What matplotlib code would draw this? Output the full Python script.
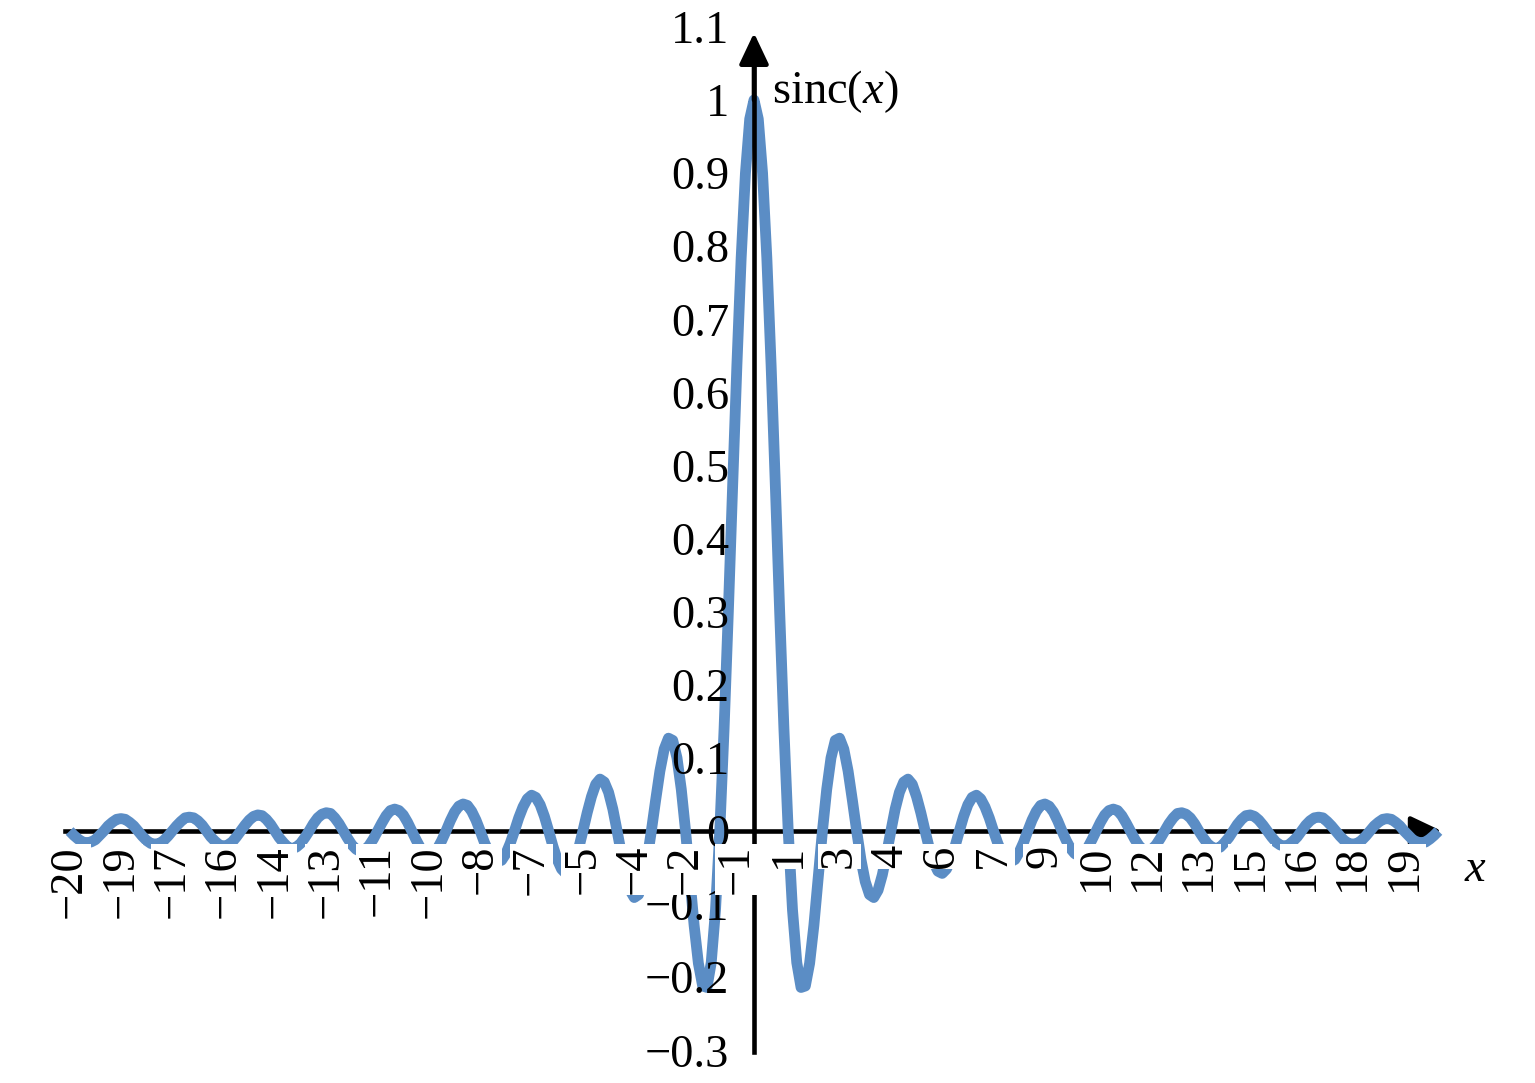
import matplotlib
matplotlib.use('Agg')
import matplotlib.pyplot as plt

plt.rcParams['font.family'] = ['Liberation Serif', 'DejaVu Serif']
plt.rcParams['mathtext.fontset'] = 'custom'
plt.rcParams['mathtext.rm'] = 'Liberation Serif'
plt.rcParams['mathtext.it'] = 'Liberation Serif:italic'

# sample points of the curve (one row per unit of x)
x_pts = [
    -20.0, -19.875, -19.75, -19.625, -19.5, -19.375, -19.25, -19.125,
    -19.0, -18.875, -18.75, -18.625, -18.5, -18.375, -18.25, -18.125,
    -18.0, -17.875, -17.75, -17.625, -17.5, -17.375, -17.25, -17.125,
    -17.0, -16.875, -16.75, -16.625, -16.5, -16.375, -16.25, -16.125,
    -16.0, -15.875, -15.75, -15.625, -15.5, -15.375, -15.25, -15.125,
    -15.0, -14.875, -14.75, -14.625, -14.5, -14.375, -14.25, -14.125,
    -14.0, -13.875, -13.75, -13.625, -13.5, -13.375, -13.25, -13.125,
    -13.0, -12.875, -12.75, -12.625, -12.5, -12.375, -12.25, -12.125,
    -12.0, -11.875, -11.75, -11.625, -11.5, -11.375, -11.25, -11.125,
    -11.0, -10.875, -10.75, -10.625, -10.5, -10.375, -10.25, -10.125,
    -10.0, -9.875, -9.75, -9.625, -9.5, -9.375, -9.25, -9.125,
    -9.0, -8.875, -8.75, -8.625, -8.5, -8.375, -8.25, -8.125,
    -8.0, -7.875, -7.75, -7.625, -7.5, -7.375, -7.25, -7.125,
    -7.0, -6.875, -6.75, -6.625, -6.5, -6.375, -6.25, -6.125,
    -6.0, -5.875, -5.75, -5.625, -5.5, -5.375, -5.25, -5.125,
    -5.0, -4.875, -4.75, -4.625, -4.5, -4.375, -4.25, -4.125,
    -4.0, -3.875, -3.75, -3.625, -3.5, -3.375, -3.25, -3.125,
    -3.0, -2.875, -2.75, -2.625, -2.5, -2.375, -2.25, -2.125,
    -2.0, -1.875, -1.75, -1.625, -1.5, -1.375, -1.25, -1.125,
    -1.0, -0.875, -0.75, -0.625, -0.5, -0.375, -0.25, -0.125,
    0.0, 0.125, 0.25, 0.375, 0.5, 0.625, 0.75, 0.875,
    1.0, 1.125, 1.25, 1.375, 1.5, 1.625, 1.75, 1.875,
    2.0, 2.125, 2.25, 2.375, 2.5, 2.625, 2.75, 2.875,
    3.0, 3.125, 3.25, 3.375, 3.5, 3.625, 3.75, 3.875,
    4.0, 4.125, 4.25, 4.375, 4.5, 4.625, 4.75, 4.875,
    5.0, 5.125, 5.25, 5.375, 5.5, 5.625, 5.75, 5.875,
    6.0, 6.125, 6.25, 6.375, 6.5, 6.625, 6.75, 6.875,
    7.0, 7.125, 7.25, 7.375, 7.5, 7.625, 7.75, 7.875,
    8.0, 8.125, 8.25, 8.375, 8.5, 8.625, 8.75, 8.875,
    9.0, 9.125, 9.25, 9.375, 9.5, 9.625, 9.75, 9.875,
    10.0, 10.125, 10.25, 10.375, 10.5, 10.625, 10.75, 10.875,
    11.0, 11.125, 11.25, 11.375, 11.5, 11.625, 11.75, 11.875,
    12.0, 12.125, 12.25, 12.375, 12.5, 12.625, 12.75, 12.875,
    13.0, 13.125, 13.25, 13.375, 13.5, 13.625, 13.75, 13.875,
    14.0, 14.125, 14.25, 14.375, 14.5, 14.625, 14.75, 14.875,
    15.0, 15.125, 15.25, 15.375, 15.5, 15.625, 15.75, 15.875,
    16.0, 16.125, 16.25, 16.375, 16.5, 16.625, 16.75, 16.875,
    17.0, 17.125, 17.25, 17.375, 17.5, 17.625, 17.75, 17.875,
    18.0, 18.125, 18.25, 18.375, 18.5, 18.625, 18.75, 18.875,
    19.0, 19.125, 19.25, 19.375, 19.5, 19.625, 19.75, 19.875,
    20.0,
]
sinc_pts = [
    0.0, -0.006, -0.011, -0.015, -0.016, -0.015, -0.012, -0.006,
    0.0, 0.007, 0.012, 0.016, 0.017, 0.016, 0.012, 0.007,
    0.0, -0.007, -0.013, -0.017, -0.018, -0.017, -0.013, -0.007,
    0.0, 0.007, 0.013, 0.018, 0.019, 0.018, 0.014, 0.008,
    0.0, -0.008, -0.014, -0.019, -0.021, -0.019, -0.015, -0.008,
    0.0, 0.008, 0.015, 0.020, 0.022, 0.021, 0.016, 0.009,
    0.0, -0.009, -0.016, -0.022, -0.024, -0.022, -0.017, -0.009,
    0.0, 0.010, 0.018, 0.023, 0.025, 0.024, 0.018, 0.010,
    0.0, -0.010, -0.019, -0.025, -0.028, -0.026, -0.020, -0.011,
    0.0, 0.011, 0.021, 0.028, 0.030, 0.028, 0.022, 0.012,
    0.0, -0.012, -0.023, -0.031, -0.034, -0.031, -0.024, -0.013,
    0.0, 0.014, 0.026, 0.034, 0.037, 0.035, 0.027, 0.015,
    0.0, -0.016, -0.029, -0.039, -0.042, -0.040, -0.031, -0.017,
    0.0, 0.018, 0.033, 0.044, 0.049, 0.046, 0.036, 0.020,
    0.0, -0.021, -0.039, -0.052, -0.058, -0.055, -0.043, -0.024,
    0.0, 0.025, 0.047, 0.064, 0.071, 0.067, 0.053, 0.030,
    0.0, -0.031, -0.060, -0.081, -0.091, -0.087, -0.069, -0.039,
    0.0, 0.042, 0.082, 0.112, 0.127, 0.124, 0.100, 0.057,
    0.0, -0.065, -0.129, -0.181, -0.212, -0.214, -0.180, -0.108,
    0.0, 0.139, 0.300, 0.471, 0.637, 0.784, 0.900, 0.974,
    1.0, 0.974, 0.900, 0.784, 0.637, 0.471, 0.300, 0.139,
    0.0, -0.108, -0.180, -0.214, -0.212, -0.181, -0.129, -0.065,
    0.0, 0.057, 0.100, 0.124, 0.127, 0.112, 0.082, 0.042,
    0.0, -0.039, -0.069, -0.087, -0.091, -0.081, -0.060, -0.031,
    0.0, 0.030, 0.053, 0.067, 0.071, 0.064, 0.047, 0.025,
    0.0, -0.024, -0.043, -0.055, -0.058, -0.052, -0.039, -0.021,
    0.0, 0.020, 0.036, 0.046, 0.049, 0.044, 0.033, 0.018,
    0.0, -0.017, -0.031, -0.040, -0.042, -0.039, -0.029, -0.016,
    0.0, 0.015, 0.027, 0.035, 0.037, 0.034, 0.026, 0.014,
    0.0, -0.013, -0.024, -0.031, -0.034, -0.031, -0.023, -0.012,
    0.0, 0.012, 0.022, 0.028, 0.030, 0.028, 0.021, 0.011,
    0.0, -0.011, -0.020, -0.026, -0.028, -0.025, -0.019, -0.010,
    0.0, 0.010, 0.018, 0.024, 0.025, 0.023, 0.018, 0.010,
    0.0, -0.009, -0.017, -0.022, -0.024, -0.022, -0.016, -0.009,
    0.0, 0.009, 0.016, 0.021, 0.022, 0.020, 0.015, 0.008,
    0.0, -0.008, -0.015, -0.019, -0.021, -0.019, -0.014, -0.008,
    0.0, 0.008, 0.014, 0.018, 0.019, 0.018, 0.013, 0.007,
    0.0, -0.007, -0.013, -0.017, -0.018, -0.017, -0.013, -0.007,
    0.0, 0.007, 0.012, 0.016, 0.017, 0.016, 0.012, 0.007,
    0.0, -0.006, -0.012, -0.015, -0.016, -0.015, -0.011, -0.006,
    0.0,
]

xtick_pos = [-20, -18.5, -17, -15.5, -14, -12.5, -11, -9.5, -8, -6.5, -5, -3.5, -2, -0.5,
             1, 2.5, 4, 5.5, 7, 8.5, 10, 11.5, 13, 14.5, 16, 17.5, 19]
xtick_labels = ['−20', '−19', '−17', '−16', '−14', '−13', '−11', '−10', '−8', '−7', '−5', '−4', '−2', '−1',
                '1', '3', '4', '6', '7', '9', '10', '12', '13', '15', '16', '18', '19']
ytick_pos = [-0.3, -0.2, -0.1, 0, 0.1, 0.2, 0.3, 0.4, 0.5, 0.6, 0.7, 0.8, 0.9, 1.0, 1.1]
ytick_labels = ['−0.3', '−0.2', '−0.1', '0', '0.1', '0.2', '0.3', '0.4', '0.5',
                '0.6', '0.7', '0.8', '0.9', '1', '1.1']

fsize = 33.5
blue = '#5b8dc5'

fig = plt.figure(figsize=(15.35, 10.83), dpi=100)
ax = fig.add_axes([0, 0, 1, 1])
ax.set_xlim(-22.034, 22.823)
ax.set_ylim(-0.3447, 1.1368)

ax.plot(x_pts, sinc_pts, color=blue, lw=7.8, solid_joinstyle='round',
        solid_capstyle='butt', zorder=2)

# axes through the origin
for s in ['top', 'right']:
    ax.spines[s].set_visible(False)
ax.spines['left'].set_position(('data', 0))
ax.spines['bottom'].set_position(('data', 0))
ax.spines['left'].set_bounds(-0.302, 1.07)
ax.spines['bottom'].set_bounds(-20.13, 19.5)
ax.spines['left'].set_linewidth(3.3)
ax.spines['bottom'].set_linewidth(3.3)
ax.spines['left'].set_zorder(2.5)
ax.spines['bottom'].set_zorder(1.5)

# arrow heads
ax.annotate('', xy=(0, 1.0917), xytext=(0, 1.0),
            arrowprops=dict(arrowstyle='-|>,head_length=0.95,head_width=0.45',
                            mutation_scale=20, color='black', lw=3.3,
                            shrinkA=0, shrinkB=0), zorder=2.5)
ax.annotate('', xy=(20.1, 0), xytext=(19.0, 0),
            arrowprops=dict(arrowstyle='-|>,head_length=0.95,head_width=0.45',
                            mutation_scale=20, color='black', lw=3.3,
                            shrinkA=0, shrinkB=0), zorder=1.5)

ax.set_xticks(xtick_pos)
ax.set_xticklabels(xtick_labels, rotation=90)
ax.set_yticks(ytick_pos)
ax.set_yticklabels(ytick_labels)
ax.tick_params(axis='x', length=0, pad=10, labelsize=fsize)
ax.tick_params(axis='y', length=0, pad=18, labelsize=fsize)
for lab in ax.get_xticklabels():
    lab.set_bbox(dict(facecolor='white', edgecolor='none', pad=0.5))
ax.xaxis.set_zorder(3.5)
ax.yaxis.set_zorder(3.4)

ax.text(0.53, 0.996, r'sinc$(x)$', fontsize=fsize, ha='left', va='baseline')
ax.text(21.07, -0.0534, r'$x$', fontsize=fsize, ha='center', va='center')

fig.savefig('out.png', dpi=100)
